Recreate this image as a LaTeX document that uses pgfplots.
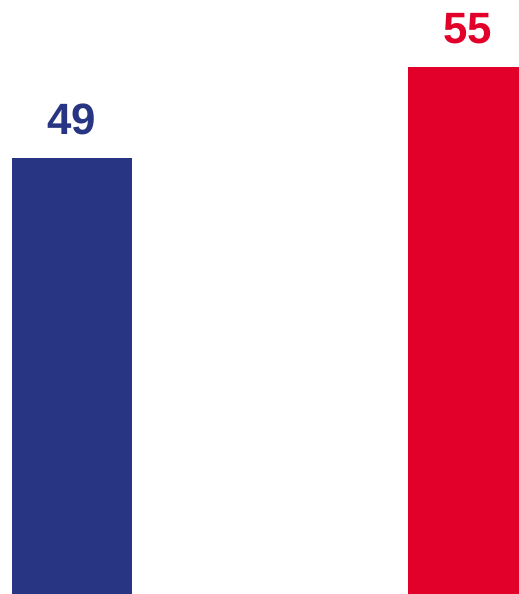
\documentclass[border=0pt]{standalone}
\usepackage{pgfplots}
\pgfplotsset{compat=1.18}
\usepackage{fontspec}
\setmainfont{Liberation Sans}
\definecolor{frblue}{HTML}{283583}
\definecolor{frred}{HTML}{E2002A}
\begin{document}
\begin{tikzpicture}
\begin{axis}[
  at={(0,0)}, anchor=south west,
  scale only axis,
  width=519bp, height=594bp,
  xmin=-0.1818, xmax=1.1288,
  ymin=20.25, ymax=59.42,
  hide axis,
  /pgf/number format/assume math mode=true,
  ybar, bar width=120bp, bar shift=0pt,
  nodes near coords,
  every node near coord/.append style={anchor=base, yshift=24bp, font=\fontsize{44}{48}\selectfont\bfseries},
]
\addplot[fill=frblue, draw=none, nodes near coords style={text=frblue}] coordinates {(0,49)};
\addplot[fill=frred, draw=none, nodes near coords style={text=frred}] coordinates {(1,55)};
\end{axis}
\pgfresetboundingbox
\path (0,0) rectangle (519bp,594bp);
\end{tikzpicture}
\end{document}
